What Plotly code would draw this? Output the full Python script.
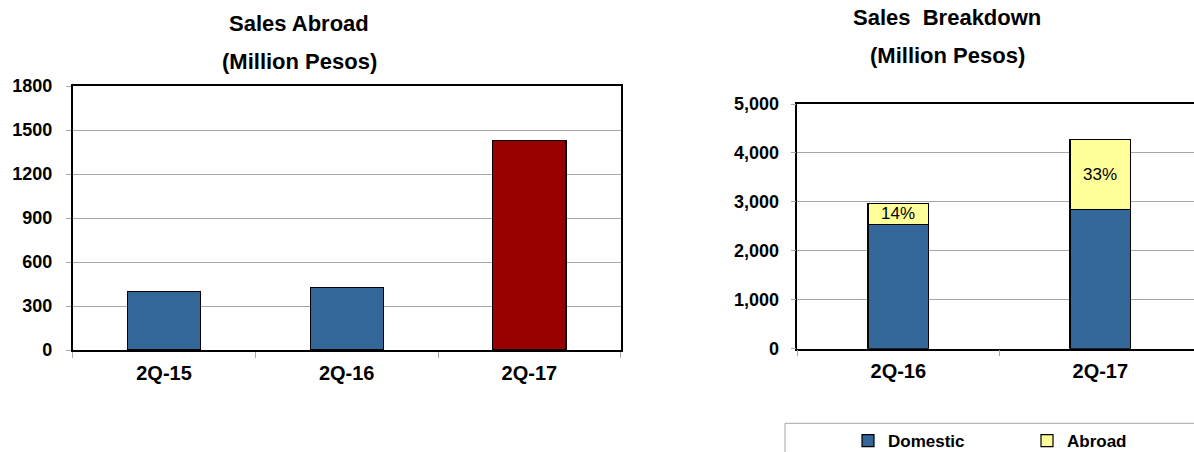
import plotly.graph_objects as go

W, H = 1194, 452

# Sales abroad by quarter (million pesos)
abroad_quarters = ["2Q-15", "2Q-16", "2Q-17"]
abroad_sales = [398, 427, 1430]
abroad_colors = ["#336699", "#336699", "#990000"]

# Sales breakdown (million pesos)
breakdown_quarters = ["2Q-16", "2Q-17"]
domestic_sales = [2545, 2840]
abroad_share_sales = [427, 1430]

left_ticks = [0, 300, 600, 900, 1200, 1500, 1800]
right_ticks = [0, 1000, 2000, 3000, 4000, 5000]
right_tick_text = ["0", "1,000", "2,000", "3,000", "4,000", "5,000"]

share_labels = [
    f"{round(100 * a / (d + a))}%" for d, a in zip(domestic_sales, abroad_share_sales)
]

FONT = "Liberation Sans, Arial, sans-serif"
GRID = "#a6a6a6"


def px_x(p):
    return p / W


def px_y(p):
    return 1 - p / H


fig = go.Figure()

fig.add_trace(go.Bar(
    x=abroad_quarters, y=abroad_sales, width=0.4,
    marker=dict(color=abroad_colors, line=dict(color="#000000", width=1.2)),
    xaxis="x", yaxis="y", showlegend=False, hoverinfo="x+y",
))

fig.add_trace(go.Bar(
    x=breakdown_quarters, y=domestic_sales, width=0.3, name="Domestic",
    marker=dict(color="#336699", line=dict(color="#000000", width=1.2)),
    xaxis="x2", yaxis="y2",
))
fig.add_trace(go.Bar(
    x=breakdown_quarters, y=abroad_share_sales, width=0.3, name="Abroad",
    marker=dict(color="#FFFF99", line=dict(color="#000000", width=1.2)),
    xaxis="x2", yaxis="y2",
))

# right chart: categories every 202 px starting at 797.3 px, cut at the page edge
right_cat = 202.0
right_range_hi = -0.5 + (W - 797.3) / right_cat

axis_common = dict(
    showline=True, linecolor="#000000", linewidth=1.5,
    tickfont=dict(family=FONT, size=20, color="#000000", weight="bold"),
)

title_font = dict(family=FONT, size=22, color="#000000")
annotations = [
    dict(text="<b>Sales Abroad</b>", x=px_x(299), y=px_y(23)),
    dict(text="<b>(Million Pesos)</b>", x=px_x(299), y=px_y(62)),
    dict(text="<b>Sales  Breakdown</b>", x=px_x(947), y=px_y(17)),
    dict(text="<b>(Million Pesos)</b>", x=px_x(947), y=px_y(56)),
]
for a in annotations:
    a.update(xref="paper", yref="paper", showarrow=False,
             xanchor="center", yanchor="middle", font=title_font)

# share of abroad sales, centred in each abroad segment
for q, d, a, lab in zip(breakdown_quarters, domestic_sales, abroad_share_sales, share_labels):
    annotations.append(dict(
        text=lab, x=q, y=d + a / 2, xref="x2", yref="y2",
        showarrow=False, xanchor="center", yanchor="middle",
        font=dict(family=FONT, size=17, color="#000000"),
    ))

fig.update_layout(
    width=W, height=H,
    margin=dict(l=0, r=0, t=0, b=0, autoexpand=False),
    paper_bgcolor="#ffffff", plot_bgcolor="#ffffff",
    barmode="stack",
    font=dict(family=FONT, color="#000000"),
    xaxis=dict(
        domain=[px_x(72.7), px_x(620.7)], range=[-0.5, 2.5],
        type="category", mirror=True, ticks="outside", tickson="boundaries",
        ticklen=6, tickcolor=GRID, anchor="y", ticklabelstandoff=4,
        **axis_common,
    ),
    yaxis=dict(
        domain=[px_y(350), px_y(86)], range=[0, 1800],
        tickvals=left_ticks, mirror=True, ticks="outside", ticklen=5,
        tickcolor=GRID, showgrid=True, gridcolor=GRID, gridwidth=1,
        zeroline=False, anchor="x", ticklabelstandoff=10,
        showline=True, linecolor="#000000", linewidth=1.5,
        tickfont=dict(family=FONT, size=18, color="#000000", weight="bold"),
    ),
    xaxis2=dict(
        domain=[px_x(797.3), 1.0], range=[-0.5, right_range_hi],
        type="category", mirror=True, ticks="outside", tickson="boundaries",
        ticklen=6, tickcolor=GRID, anchor="y2", ticklabelstandoff=4,
        **axis_common,
    ),
    yaxis2=dict(
        domain=[px_y(348.7), px_y(104)], range=[0, 5000],
        tickvals=right_ticks, ticktext=right_tick_text,
        mirror=False, ticks="outside", ticklen=5, tickcolor=GRID,
        showgrid=True, gridcolor=GRID, gridwidth=1, zeroline=False,
        anchor="x2", ticklabelstandoff=8,
        showline=True, linecolor="#000000", linewidth=1.5,
        tickfont=dict(family=FONT, size=18, color="#000000", weight="bold"),
    ),
    legend=dict(
        orientation="h", x=px_x(848), xanchor="left",
        y=px_y(441), yanchor="middle",
        bgcolor="rgba(0,0,0,0)", borderwidth=0,
        entrywidth=134, entrywidthmode="pixels",
        itemwidth=30, traceorder="normal",
        font=dict(family=FONT, size=17, color="#000000", weight="bold"),
    ),
    shapes=[
        dict(type="rect", xref="paper", yref="paper",
             x0=px_x(785), x1=1.02, y0=-0.1, y1=px_y(423.3),
             line=dict(color="#a6a6a6", width=1), fillcolor="rgba(0,0,0,0)"),
    ],
    annotations=annotations,
)

fig.write_html("out.html")
